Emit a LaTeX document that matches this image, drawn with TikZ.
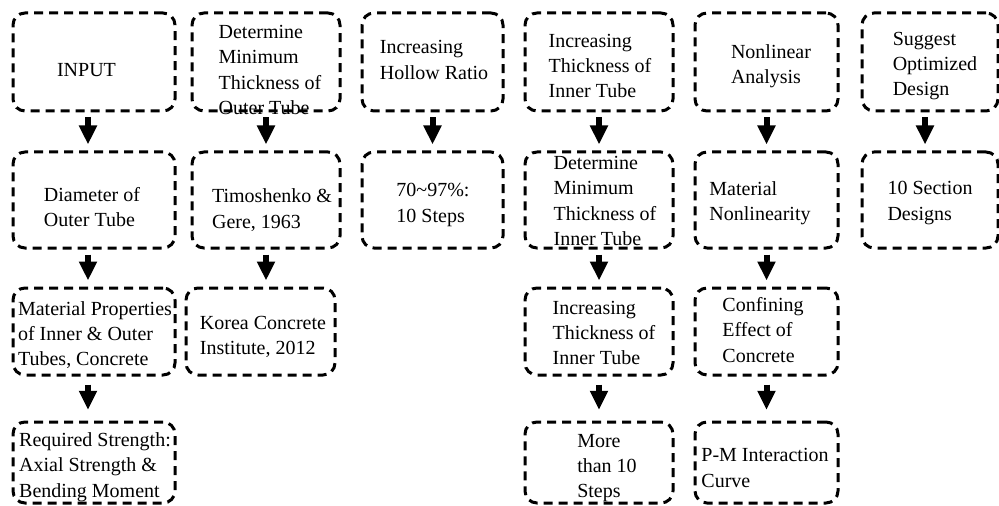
\documentclass[tikz,border=0pt]{standalone}
\usepackage{fontspec}
\setmainfont{Liberation Serif}
\usetikzlibrary{arrows.meta}

\tikzset{
  box/.style={draw,dash pattern=on 6.75pt off 4.5pt,line width=2.25pt,rounded corners=9pt,inner sep=0pt},
  rowa/.style={minimum height=73.5pt},
  rowb/.style={minimum height=72pt},
  rowc/.style={minimum height=65.25pt},
  rowd/.style={minimum height=60.75pt},
  txt/.style={align=left,inner sep=0pt,font=\fontsize{15pt}{19pt}\selectfont},
  flow/.style={->,line width=4.5pt,shorten <=3.75pt,shorten >=4.5pt}
}

\begin{document}
\begin{tikzpicture}[>={Triangle[width=12.75pt,length=14.25pt]},line join=bevel,x=0.75pt,y=-0.75pt]

\useasboundingbox (0,0) rectangle (999,506);

\node[box,rowa,minimum width=121.5pt] (in1) at (94,62) {};
\node[box,rowb,minimum width=121.5pt] (in2) at (94,200) {};
\node[box,rowc,minimum width=121.5pt] (in3) at (94,331.5) {};
\node[box,rowd,minimum width=121.5pt] (in4) at (94,462.5) {};

\node[box,rowa,minimum width=111pt] (ot1) at (266,62) {};
\node[box,rowb,minimum width=111pt] (ot2) at (266,200) {};
\node[box,rowc,minimum width=111.75pt] (ot3) at (260.5,331.5) {};

\node[box,rowa,minimum width=105.75pt] (hr1) at (432.5,62) {};
\node[box,rowb,minimum width=105.75pt] (hr2) at (432.5,200) {};

\node[box,rowa,minimum width=111pt] (it1) at (599,62) {};
\node[box,rowb,minimum width=111pt] (it2) at (599,200) {};
\node[box,rowc,minimum width=111pt] (it3) at (599,331.5) {};
\node[box,rowd,minimum width=111pt] (it4) at (599,462.5) {};

\node[box,rowa,minimum width=107.25pt] (na1) at (766.5,62) {};
\node[box,rowb,minimum width=107.25pt] (na2) at (766.5,200) {};
\node[box,rowc,minimum width=107.25pt] (na3) at (766.5,331.5) {};
\node[box,rowd,minimum width=107.25pt] (na4) at (766.5,462.5) {};

\node[box,rowa,minimum width=102pt] (od1) at (930,62) {};
\node[box,rowb,minimum width=102pt] (od2) at (930,200) {};

\node[txt] (in1t) at (89,70) { INPUT };
\node[txt] (in2t) at (92,207) { Diameter of\\Outer Tube };
\node[txt] (in3t) at (95,335) { Material Properties\\of Inner \& Outer\\Tubes, Concrete };
\node[txt] (in4t) at (95,467) { Required Strength:\\Axial Strength \&\\Bending Moment };

\node[txt] (ot1t) at (270,70) { Determine\\Minimum\\Thickness of\\Outer Tube };
\node[txt] (ot2t) at (272,210) { Timoshenko \&\\Gere, 1963 };
\node[txt] (ot3t) at (263,337) { Korea Concrete\\Institute, 2012 };

\node[txt] (hr1t) at (434,60) { Increasing\\Hollow Ratio };
\node[txt] (hr2t) at (433,205) { 70\textasciitilde 97\%:\\10 Steps };

\node[txt] (it1t) at (600,66) { Increasing\\Thickness of\\Inner Tube };
\node[txt] (it2t) at (605,201) { Determine\\Minimum\\Thickness of\\Inner Tube };
\node[txt] (it3t) at (604,333) { Increasing\\Thickness of\\Inner Tube };
\node[txt] (it4t) at (607,468) { More\\than 10\\Steps };

\node[txt] (na1t) at (771,66) { Nonlinear\\Analysis };
\node[txt] (na2t) at (760,203) { Material\\Nonlinearity };
\node[txt] (na3t) at (763,330) { Confining\\Effect of\\Concrete };
\node[txt] (na4t) at (765,468) { P-M Interaction\\Curve };

\node[txt] (od1t) at (935,66) { Suggest\\Optimized\\Design };
\node[txt] (od2t) at (930,203) { 10 Section\\Designs };

\draw[flow] ([xshift=-4.5pt]in1.south) -- ([xshift=-4.5pt]in2.north);
\draw[flow] ([xshift=-4.5pt]in2.south) -- ([xshift=-4.5pt]in3.north);
\draw[flow,shorten <=6pt,shorten >=8pt] ([xshift=-4.5pt]in3.south) -- ([xshift=-4.5pt]in4.north);

\draw[flow] (ot1) -- (ot2);
\draw[flow] (ot2.south) -- (ot2.south |- ot3.north);

\draw[flow] (hr1) -- (hr2);

\draw[flow] (it1) -- (it2);
\draw[flow] (it2) -- (it3);
\draw[flow,shorten <=6pt,shorten >=8pt] (it3) -- (it4);

\draw[flow] (na1) -- (na2);
\draw[flow] (na2) -- (na3);
\draw[flow,shorten <=6pt,shorten >=8pt] (na3) -- (na4);

\draw[flow] ([xshift=-3.75pt]od1.south) -- ([xshift=-3.75pt]od2.north);

\end{tikzpicture}
\end{document}
